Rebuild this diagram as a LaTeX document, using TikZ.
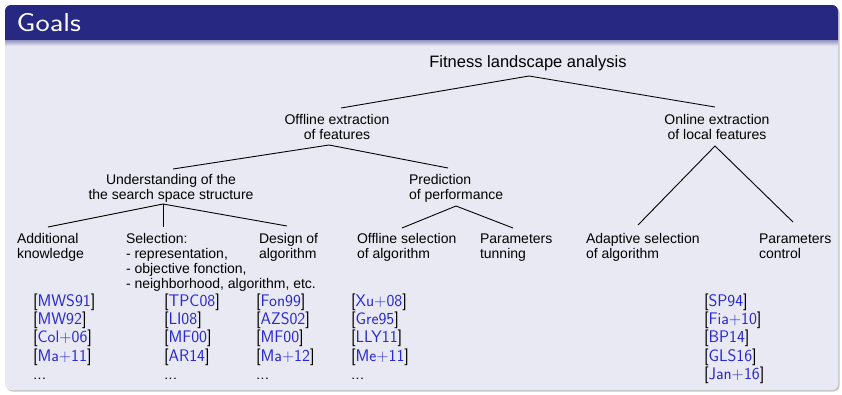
\documentclass[tikz,border=0pt]{standalone}
\usepackage{fontspec}
\newfontfamily\arialf{Liberation Sans}
\usepackage{graphicx}
\definecolor{barblue}{RGB}{38,40,130}
\definecolor{bodybg}{RGB}{233,233,243}
\definecolor{citeblue}{RGB}{40,40,210}
\newcommand\ctn[1]{[{\color{citeblue}#1}]}
\begin{document}
\begin{tikzpicture}[x=1pt,y=1pt,
  lbl/.style={font=\arialf\fontsize{14}{15}\selectfont, inner sep=0pt, outer sep=0pt, text=black},
  lblc/.style={lbl, align=center, anchor=base},
  lbll/.style={lbl, align=left, anchor=base west},
  cites/.style={font=\sffamily\fontsize{16.8}{18.4}\selectfont, inner sep=0pt, outer sep=0pt, align=left, anchor=base west},
  conn/.style={line width=0.9pt, black}]
\useasboundingbox (0,0) rectangle (842,-394);
\fill[white] (0,0) rectangle (842,-394);
% frame
\fill[black!22, rounded corners=6pt] (6.5,-6.5) rectangle (839.5,-391.5);
\fill[bodybg, rounded corners=6pt] (5,-5) rectangle (838,-390);
\begin{scope}
  \clip (0,0) rectangle (842,-40);
  \fill[barblue, rounded corners=6pt] (5,-5) rectangle (838,-390);
\end{scope}
\shade[top color=barblue!45!bodybg, bottom color=bodybg] (5,-40) rectangle (838,-46);
\node[font=\sffamily\fontsize{26}{26}\selectfont, text=white, anchor=base west, inner sep=0pt] (title) at (16.5,-31.7) {\scalebox{1.16}[1]{Goals}};
% tree texts (base anchor = baseline of the last line)
\node[lbl, font=\arialf\fontsize{16.5}{18}\selectfont, anchor=base] (root) at (528,-67.7) {Fitness landscape analysis};
\node[lblc] (off) at (337,-139) {Offline extraction\\of features};
\node[lblc] (onl) at (717,-139.5) {Online extraction\\of local features};
\node[lblc] (und) at (171,-199) {Understanding of the\\the search space structure};
\node[lbll] (pred) at (409,-199) {Prediction\\of performance};
\node[lbll] (add) at (17,-258) {Additional\\knowledge};
\node[lbll] (sel) at (126,-288) {Selection:\\- representation,\\- objective fonction,\\- neighborhood, algorithm, etc.};
\node[lbll] (des) at (259,-258) {Design of\\algorithm};
\node[lbll] (ofs) at (357,-258) {Offline selection\\of algorithm};
\node[lbll] (ptun) at (480,-258) {Parameters\\tunning};
\node[lbll] (ada) at (586,-258.5) {Adaptive selection\\of algorithm};
\node[lbll] (pcon) at (759,-258.5) {Parameters\\control};
% connectors
\draw[conn] ([xshift=4pt,yshift=31pt]off.base) -- ([xshift=1pt,yshift=-8.3pt]root.base) -- ([xshift=-2pt,yshift=32.5pt]onl.base);
\draw[conn] ([xshift=2pt,yshift=30pt]und.base) -- ([xshift=-8pt,yshift=-6pt]off.base) -- ([xshift=39pt,yshift=31pt]pred.base west);
\draw[conn] ([xshift=31pt,yshift=31pt]add.base west) -- ([xshift=-8pt,yshift=-5pt]und.base) -- ([xshift=28pt,yshift=32pt]des.base west);
\draw[conn] ([xshift=-8pt,yshift=-5pt]und.base) -- ([xshift=37pt,yshift=61pt]sel.base west);
\draw[conn] ([xshift=45pt,yshift=30pt]ofs.base west) -- ([xshift=47pt,yshift=-7pt]pred.base west) -- ([xshift=33pt,yshift=30pt]ptun.base west);
\draw[conn] ([xshift=52pt,yshift=33.5pt]ada.base west) -- ([xshift=-2pt,yshift=-6.5pt]onl.base) -- ([xshift=34pt,yshift=36.5pt]pcon.base west);
% citations
\node[cites] (c1) at (33,-379.6) {\ctn{MWS91}\\\ctn{MW92}\\\ctn{Col+06}\\\ctn{Ma+11}\\...};
\node[cites] (c2) at (164,-379.6) {\ctn{TPC08}\\\ctn{LI08}\\\ctn{MF00}\\\ctn{AR14}\\...};
\node[cites] (c3) at (256,-379.6) {\ctn{Fon99}\\\ctn{AZS02}\\\ctn{MF00}\\\ctn{Ma+12}\\...};
\node[cites] (c4) at (351,-379.6) {\ctn{Xu+08}\\\ctn{Gre95}\\\ctn{LLY11}\\\ctn{Me+11}\\...};
\node[cites] (c5) at (704,-379.6) {\ctn{SP94}\\\ctn{Fia+10}\\\ctn{BP14}\\\ctn{GLS16}\\\ctn{Jan+16}};
\end{tikzpicture}
\end{document}
